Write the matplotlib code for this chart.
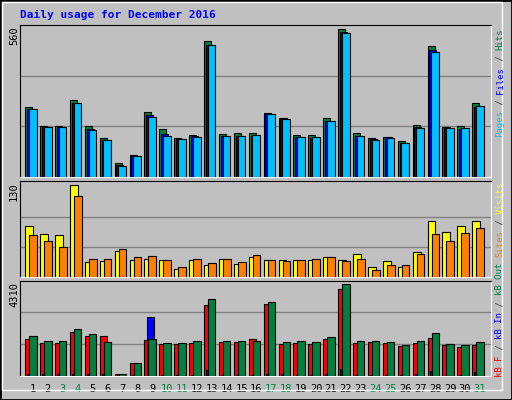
import matplotlib
matplotlib.use("Agg")
import matplotlib.pyplot as plt
from matplotlib.patches import Rectangle
import numpy as np

days = list(range(1, 32))
weekend = [3, 4, 10, 11, 17, 18, 24, 25, 31]
hits = [258,188,188,282,188,142,52,82,240,178,145,156,502,160,163,163,237,219,156,153,219,544,163,142,149,131,193,483,185,188,274]
files = [250,186,186,272,176,138,44,78,227,160,140,150,487,150,150,152,231,216,147,142,207,533,150,139,146,127,184,469,179,177,259]
pages = [249,186,186,274,174,137,42,78,222,152,141,149,486,151,151,155,232,212,148,148,207,530,151,137,144,127,181,460,179,179,261]
visits = [72,61,59,130,21,23,37,24,25,24,11,24,17,25,18,28,24,24,24,24,28,24,32,14,23,14,35,79,64,72,79]
sites = [59,51,42,114,25,25,40,28,30,24,14,25,20,25,21,31,24,23,24,25,28,23,25,10,17,17,32,61,51,62,69]
kb_f = [1715,1526,1526,2045,1856,1856,110,629,1667,1479,1479,1526,3319,1573,1573,1715,3366,1479,1526,1479,1715,4074,1526,1573,1526,1384,1526,1762,1431,1337,1431]
kb_in = [80,80,80,80,80,80,30,40,2753,60,60,60,267,60,60,60,100,100,60,60,100,315,60,60,60,60,100,220,60,60,173]
kb_out = [1856,1620,1620,2187,1950,1573,110,629,1714,1526,1526,1620,3602,1620,1620,1620,3461,1573,1620,1573,1809,4310,1620,1620,1573,1431,1620,1998,1479,1431,1573]

W, H = 512, 400
fig = plt.figure(figsize=(W/100, H/100), dpi=100)
fig.patch.set_facecolor('#c0c0c0')
fig.patches.append(Rectangle((0, 0), 1, 1, transform=fig.transFigure, fill=False, ec='black', lw=2))
fig.patches.append(Rectangle((2/W, 10/H), 1-12/W, 1-12/H, transform=fig.transFigure, fill=False, ec='white', lw=1))

GRAY = '#c0c0c0'
def mkax(top, bottom):
    ax = fig.add_axes([20/W, 1-bottom/H, 471/W, (bottom-top)/H])
    ax.set_facecolor(GRAY)
    ax.set_xlim(0.13, 31.74)
    ax.set_xticks([]); ax.set_yticks([])
    for s in ax.spines.values():
        s.set_color('black')
    ax.spines['bottom'].set_color('white'); ax.spines['right'].set_color('white')
    return ax

x = np.array(days, dtype=float)
mono = 'DejaVu Sans Mono'

a1 = mkax(25, 177)
a1.set_ylim(0, 560)
for g in (560/3, 2*560/3):
    a1.axhline(g, color='#808080', lw=1, zorder=0)
a1.bar(x-0.515, hits, width=0.47, align='edge', color='#008040', ec='black', lw=0.8, zorder=2)
a1.bar(x-0.4, files, width=0.47, align='edge', color='#0000ff', ec='black', lw=0.8, zorder=3)
a1.bar(x-0.27, pages, width=0.52, align='edge', color='#00c0ff', ec='black', lw=0.8, zorder=4)

a2 = mkax(181, 277)
a2.set_ylim(0, 130*1.04)
for g in (42, 84):
    a2.axhline(g, color='#808080', lw=1, zorder=0)
a2.bar(x-0.515, visits, width=0.53, align='edge', color='#ffff00', ec='black', lw=0.8, zorder=2)
a2.bar(x-0.25, sites, width=0.52, align='edge', color='#ff8000', ec='black', lw=0.8, zorder=3)

a3 = mkax(281, 376)
a3.set_ylim(0, 4310*1.03)
for g in (1500, 3000):
    a3.axhline(g, color='#808080', lw=1, zorder=0)
a3.bar(x-0.515, kb_f, width=0.47, align='edge', color='#ff0000', ec='black', lw=0.8, zorder=2)
a3.bar(x-0.38, kb_in, width=0.47, align='edge', color='#0000ff', ec='black', lw=0.8, zorder=3)
a3.bar(x-0.25, kb_out, width=0.5, align='edge', color='#008040', ec='black', lw=0.8, zorder=4)

for d in days:
    a3.text(d, -0.14, str(d), transform=a3.get_xaxis_transform(), ha='center', va='center',
            fontsize=7.5, family=mono, color='#008040' if d in weekend else 'black')

fig.text(20/W, 1-15/H, 'Daily usage for December 2016', color='#0000ff', fontsize=8,
         family=mono, weight='bold', va='center', ha='left')
for lab, ytop in (('560', 26), ('130', 182), ('4310', 282)):
    fig.text(14/W, 1-ytop/H, lab, rotation=90, fontsize=7.5, family=mono, ha='center', va='top')

FS = 6.5
CW = 0.602 * FS * 100 / 72
def vlabel(parts, ybot, xpx=500):
    y = ybot
    for txt, col in parts:
        fig.text(xpx/W, 1-y/H, txt, rotation=90, color=col, fontsize=FS, family=mono,
                 ha='center', va='bottom')
        y -= CW*len(txt)

vlabel([('Pages', '#00c0ff'), (' / ', '#404040'), ('Files', '#0000ff'), (' / ', '#404040'), ('Hits', '#008040')], 137)
vlabel([('Sites', '#ff8000'), (' / ', '#404040'), ('Visits', '#ffff00')], 257)
vlabel([('kB F', '#ff0000'), (' / ', '#404040'), ('kB In', '#0000ff'), (' / ', '#404040'), ('kB Out', '#008040')], 377)

fig.savefig('out.png', dpi=100, facecolor=fig.get_facecolor())
